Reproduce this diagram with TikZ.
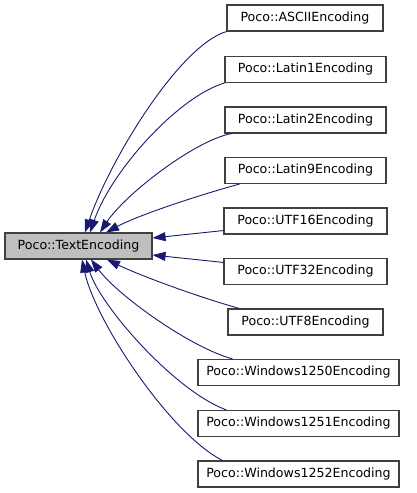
\documentclass[tikz,border=0pt]{standalone}
\usepackage{fontspec}
\setmainfont{DejaVu Sans}
\usetikzlibrary{arrows.meta}
\definecolor{edgeblue}{HTML}{191970}
\definecolor{boxborder}{HTML}{404040}
\tikzset{
  cls/.style={draw=boxborder, line width=1.1pt, fill=white, rectangle, minimum height=26pt, inner sep=0pt,
    font=\fontsize{12.6}{15}\selectfont, text=black},
  wide/.style={minimum width=#1},
  inh/.style={draw=edgeblue, line width=0.9pt, -{Triangle[length=13pt,width=9pt]}, shorten >=0pt}
}
\begin{document}
\begin{tikzpicture}[x=1pt,y=-1pt]
\useasboundingbox (0,0) rectangle (416,493);
\node[cls, wide=147pt, fill=gray!50] (te) at (78.5,246) {Poco::TextEncoding};
\node[cls, wide=156pt] (ascii) at (305,18) {Poco::ASCIIEncoding};
\node[cls, wide=161pt] (latin1) at (305.5,69.5) {Poco::Latin1Encoding};
\node[cls, wide=161pt] (latin2) at (305.5,120) {Poco::Latin2Encoding};
\node[cls, wide=161pt] (latin9) at (305.5,170.5) {Poco::Latin9Encoding};
\node[cls, wide=163pt] (utf16) at (305.5,221) {Poco::UTF16Encoding};
\node[cls, wide=163pt] (utf32) at (305.5,271.5) {Poco::UTF32Encoding};
\node[cls, wide=155pt] (utf8) at (305.5,322) {Poco::UTF8Encoding};
\node[cls, wide=201pt] (w1250) at (298.5,372.5) {Poco::Windows1250Encoding};
\node[cls, wide=201pt] (w1251) at (298.5,423.5) {Poco::Windows1251Encoding};
\node[cls, wide=201pt] (w1252) at (298.5,474) {Poco::Windows1252Encoding};

\draw[inh] (ascii.south west) .. controls +(-47,14) and +(25,-73) .. ([xshift=6.5pt]te.north);
\draw[inh] (latin1.south west) .. controls +(-45,13) and +(22,-63) .. ([xshift=11.5pt]te.north);
\draw[inh] ([xshift=7pt]latin2.south west) .. controls +(-37,7) and +(25,-38) .. ([xshift=21.5pt]te.north);
\draw[inh] ([xshift=15pt]latin9.south west) .. controls +(-40,11) and +(34,-18) .. ([xshift=27.5pt]te.north);
\draw[inh] ([yshift=4pt]utf16.south west) -- ([yshift=8pt]te.east);
\draw[inh] ([yshift=-4.5pt]utf32.north west) -- ([yshift=-9pt]te.east);
\draw[inh] ([xshift=12pt]utf8.north west) .. controls +(-40,-11) and +(33,16) .. ([xshift=28.5pt]te.south);
\draw[inh] ([xshift=35pt]w1250.north west) .. controls +(-43,-12) and +(27,36) .. ([xshift=12.5pt]te.south);
\draw[inh] ([xshift=29pt]w1251.north west) .. controls +(-52,-19) and +(14,46) .. ([xshift=7.5pt]te.south);
\draw[inh] ([xshift=25pt]w1252.north west) .. controls +(-53,-27) and +(13,61) .. ([xshift=3.5pt]te.south);
\end{tikzpicture}
\end{document}
